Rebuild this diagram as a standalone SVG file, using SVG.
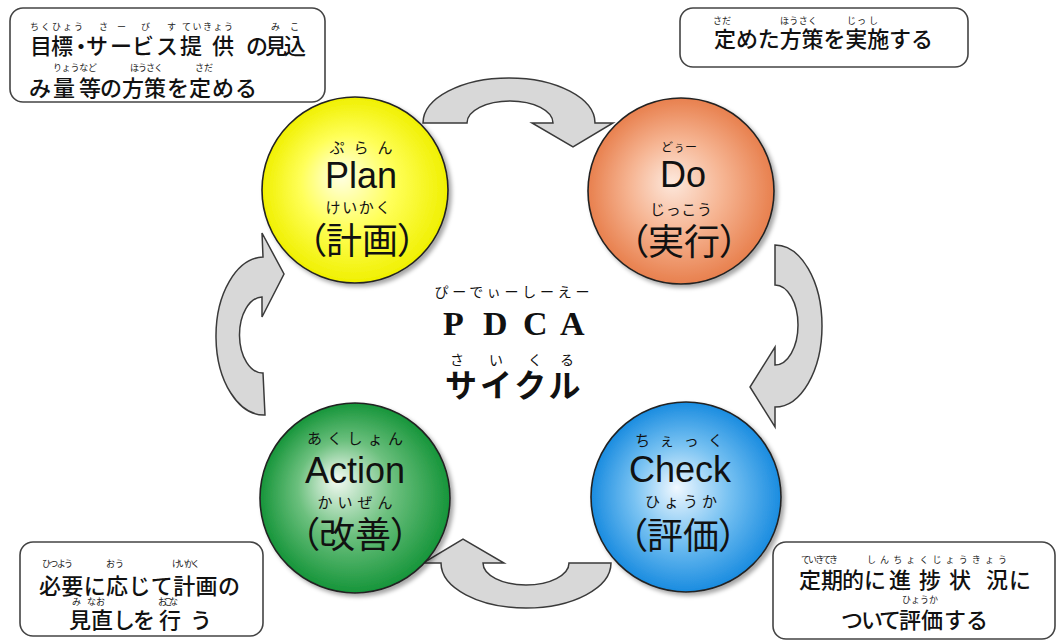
<svg xmlns="http://www.w3.org/2000/svg" width="1056" height="641" viewBox="0 0 1056 641">
<defs>
<radialGradient id="gY" cx="50%" cy="50%" r="50%" fx="42%" fy="42%">
<stop offset="0" stop-color="#ffffe6"/><stop offset="0.5" stop-color="#ffff5a"/><stop offset="1" stop-color="#f0f000"/>
</radialGradient>
<radialGradient id="gO" cx="50%" cy="50%" r="50%" fx="45%" fy="45%">
<stop offset="0" stop-color="#fde8dc"/><stop offset="0.5" stop-color="#f6b593"/><stop offset="1" stop-color="#e8804e"/>
</radialGradient>
<radialGradient id="gG" cx="50%" cy="50%" r="50%" fx="40%" fy="40%">
<stop offset="0" stop-color="#f4faf4"/><stop offset="0.5" stop-color="#6cc07e"/><stop offset="1" stop-color="#16953a"/>
</radialGradient>
<radialGradient id="gB" cx="50%" cy="50%" r="50%" fx="45%" fy="45%">
<stop offset="0" stop-color="#f0f8ff"/><stop offset="0.5" stop-color="#78c2f2"/><stop offset="1" stop-color="#1a8ce0"/>
</radialGradient>
<filter id="sh" x="-20%" y="-20%" width="140%" height="140%">
<feDropShadow dx="3" dy="3" stdDeviation="2" flood-color="#000" flood-opacity="0.35"/>
</filter>
</defs>
<style>
.box{fill:#fff;stroke:#444;stroke-width:1.6}
.arrow{fill:#d8d8d8;stroke:#3a3a3a;stroke-width:1.5;stroke-linejoin:miter}
.circ{stroke:#222;stroke-width:1.6}
.jp{font-family:"Noto Sans CJK JP","Noto Sans",sans-serif;fill:#111}
.bt{font-size:22px;font-weight:500}
.fu{font-size:9px;fill:#222}
.cf{font-size:15px;text-anchor:middle}
.en{font-family:"Liberation Sans",Arial,sans-serif;font-size:36px;text-anchor:middle;fill:#111}
.kj{font-size:36px;text-anchor:middle;font-feature-settings:"palt"}
.pd{font-family:"Liberation Serif","Times New Roman",serif;font-weight:bold;font-size:34px;fill:#111}
</style>

<g id="connectors">
<path class="arrow" d="M423,123 A86,45 0 0 1 595,123 L613,123 L573,147 L532,123 L553,123 A43,22 0 0 0 467,123 Z"/>
<path class="arrow" d="M775,245 A47,81 0 0 1 775,407 L775,427 L750,387 L775,347 L775,365 A23,40 0 0 0 775,285 Z"/>
<path class="arrow" d="M611,563 A85,45 0 0 1 441,563 L423,563 L463,539 L504,563 L483,563 A43,22 0 0 0 569,563 Z"/>
<path class="arrow" d="M265,415 A48,79 0 0 1 263,257 L262,233 L284,274 L262,317 L262,297 A23,38 0 0 0 263,373 Z"/>
</g>

<g id="plan">
<circle class="circ" cx="355" cy="190" r="93" fill="url(#gY)" filter="url(#sh)"/>
<text class="jp cf" x="361" y="153" textLength="63" lengthAdjust="spacing">ぷらん</text>
<text class="en" x="361" y="188">Plan</text>
<text class="jp cf" x="358" y="213" textLength="65" lengthAdjust="spacing">けいかく</text>
<text class="jp kj" x="362" y="254">（計画）</text>
</g>

<g id="do">
<circle class="circ" cx="681" cy="191" r="93" fill="url(#gO)" filter="url(#sh)"/>
<text class="jp" x="679" y="152" font-size="12" text-anchor="middle">どぅー</text>
<text class="en" x="683" y="187">Do</text>
<text class="jp cf" x="681" y="215" textLength="62" lengthAdjust="spacing">じっこう</text>
<text class="jp kj" x="684" y="255">（実行）</text>
</g>

<g id="action">
<circle class="circ" cx="355" cy="498" r="95" fill="url(#gG)" filter="url(#sh)"/>
<text class="jp cf" x="355" y="444" textLength="96" lengthAdjust="spacing">あくしょん</text>
<text class="en" x="355" y="483">Action</text>
<text class="jp cf" x="355" y="508" textLength="75" lengthAdjust="spacing">かいぜん</text>
<text class="jp kj" x="355" y="548">（改善）</text>
</g>

<g id="check">
<circle class="circ" cx="686" cy="497" r="95" fill="url(#gB)" filter="url(#sh)"/>
<text class="jp cf" x="679" y="446" textLength="88" lengthAdjust="spacing">ちぇっく</text>
<text class="en" x="680" y="482">Check</text>
<text class="jp cf" x="681" y="507" textLength="72" lengthAdjust="spacing">ひょうか</text>
<text class="jp kj" x="683" y="549">（評価）</text>
</g>

<g id="center">
<text class="jp" x="512" y="297" font-size="14" text-anchor="middle" textLength="155" lengthAdjust="spacing" fill="#222">ぴーでぃーしーえー</text>
<text class="pd" x="443 483 523 560" y="335">PDCA</text>
<text class="jp" x="450 489 528 560" y="365" font-size="14" fill="#222">さいくる</text>
<text class="jp" x="445" y="397" font-size="32" font-weight="bold" letter-spacing="3">サイクル</text>
</g>

<g id="box-plan">
<rect class="box" x="10" y="8" width="315" height="94" rx="13"/>
<text class="jp fu" x="30" y="30" textLength="53" lengthAdjust="spacing">ちくひょう</text>
<text class="jp fu" x="99 117 141 167" y="30">さーびす</text>
<text class="jp fu" x="182" y="30" textLength="51" lengthAdjust="spacing">ていきょう</text>
<text class="jp fu" x="271 290" y="30">みこ</text>
<text class="jp bt" x="30 51 70 86 110 132 156 180 212 246 265 284" y="54">目標・サービス提供の見込</text>
<text class="jp fu" x="53" y="71" textLength="44" lengthAdjust="spacing">りょうなど</text>
<text class="jp fu" x="130" y="71" textLength="33" lengthAdjust="spacing">ほうさく</text>
<text class="jp fu" x="195" y="71">さだ</text>
<text class="jp bt" x="29 53 79 100 122 144 167 189 212 235" y="96">み量等の方策を定める</text>
</g>

<g id="box-do">
<rect class="box" x="680" y="8" width="288" height="59" rx="13"/>
<text class="jp fu" x="713" y="24">さだ</text>
<text class="jp fu" x="780" y="24" textLength="37" lengthAdjust="spacing">ほうさく</text>
<text class="jp fu" x="847 857 869" y="24">じっし</text>
<text class="jp bt" x="714" y="47" textLength="219" lengthAdjust="spacing">定めた方策を実施する</text>
</g>

<g id="box-action">
<rect class="box" x="20" y="542" width="243" height="94" rx="13"/>
<text class="jp fu" x="42" y="567" font-size="8" textLength="31" lengthAdjust="spacing">ひつよう</text>
<text class="jp fu" x="106" y="567" font-size="8">おう</text>
<text class="jp fu" x="172" y="567" font-size="8" textLength="28" lengthAdjust="spacing">けいかく</text>
<text class="jp bt" x="39" y="594" textLength="201" lengthAdjust="spacing">必要に応じて計画の</text>
<text class="jp fu" x="72 87 96" y="605" font-size="8">みなお</text>
<text class="jp fu" x="158" y="605" font-size="8" textLength="20" lengthAdjust="spacing">おこな</text>
<text class="jp bt" x="69 91 113 133 159 190" y="628">見直しを行う</text>
</g>

<g id="box-check">
<rect class="box" x="773" y="542" width="282" height="97" rx="13"/>
<text class="jp fu" x="801" y="563" font-size="8" textLength="37" lengthAdjust="spacing">ていきてき</text>
<text class="jp fu" x="867" y="563" textLength="140" lengthAdjust="spacing">しんちょくじょうきょう</text>
<text class="jp bt" x="799 821 842 864 889 919 949 986 1009" y="588">定期的に進捗状況に</text>
<text class="jp fu" x="902" y="603" font-size="8">ひょうか</text>
<text class="jp bt" x="841 861 879 899 921 944 966" y="628">ついて評価する</text>
</g>
</svg>
